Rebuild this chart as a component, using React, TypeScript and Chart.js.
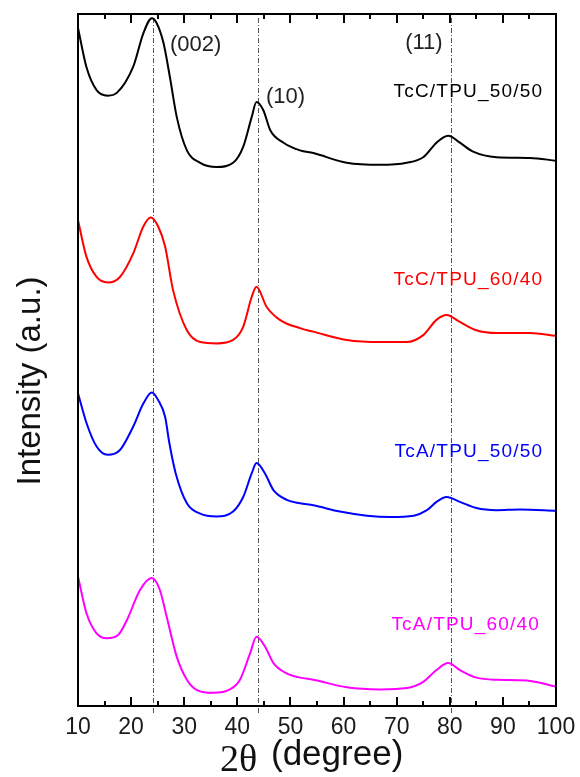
import React, { useEffect, useRef } from 'react';
import { Chart, registerables } from 'chart.js';

Chart.register(...registerables);

// 2θ (degree) positions and intensities (a.u., stacked offsets included)
const tcc5050X = [10, 11.6, 13.5, 15.6, 17.3, 20.4, 22.3, 23.9, 24.8, 26.1, 27.3, 28.6, 30.5, 33, 36.1, 39.2, 41.1, 42.7, 43.6, 44.9, 46.2, 48.7, 51.8, 54.3, 60.6, 66.9, 71.9, 75, 77.5, 79.7, 81.9, 84.4, 88.8, 95.1, 100];
const tcc5050Y = [98.0, 92.3, 89.0, 88.2, 88.6, 92.4, 97.2, 99.4, 98.7, 95.8, 90.9, 85.1, 80.3, 78.5, 77.9, 78.5, 80.8, 85.1, 87.3, 86.1, 83.2, 81.4, 80.3, 79.9, 78.5, 78.2, 78.5, 79.3, 81.4, 82.4, 81.4, 80.1, 79.3, 79.2, 78.8];

const tcc6040X = [10, 11.6, 13.5, 15.6, 17.9, 20.4, 22.3, 23.7, 25.1, 26.4, 27.9, 30.5, 33, 36.1, 39.2, 41.1, 42.7, 43.6, 45.5, 48, 51.8, 54.3, 60.6, 66.9, 71.9, 75, 77.5, 79.4, 81.9, 85, 88.8, 95.1, 100];
const tcc6040Y = [70.2, 64.9, 62.0, 61.2, 62.0, 65.4, 69.3, 70.6, 69.3, 66.4, 60.1, 54.3, 52.6, 52.4, 52.9, 54.8, 59.1, 60.6, 57.7, 55.8, 54.6, 54.1, 52.9, 52.6, 52.6, 53.6, 55.8, 56.5, 55.5, 54.3, 53.9, 53.9, 53.5];

const tca5050X = [10, 11.6, 13.5, 15.6, 17.9, 20.4, 22.3, 23.9, 25.1, 26.4, 27.2, 28.4, 30.5, 33, 36.1, 39.2, 41.1, 42.7, 43.6, 45.2, 46.8, 49.3, 51.8, 54.3, 59.3, 64.4, 68.8, 73.2, 75.7, 77.5, 79.4, 81.9, 85, 88.8, 93.2, 100];
const tca5050Y = [45.2, 40.9, 37.5, 36.3, 37.0, 40.4, 43.7, 45.3, 44.2, 41.8, 38.0, 33.6, 29.3, 27.8, 27.4, 28.1, 30.2, 33.6, 35.1, 33.6, 31.2, 29.8, 29.3, 29.0, 28.1, 27.5, 27.3, 27.5, 28.3, 29.5, 30.2, 29.5, 28.6, 28.3, 28.4, 28.2];

const tca6040X = [10, 11.6, 13.5, 15.4, 17.6, 19.2, 21.7, 23.9, 25.4, 26.7, 28.6, 30.5, 32.4, 35.5, 38.6, 40.5, 42.4, 43.6, 45.2, 46.8, 49.3, 51.8, 54.3, 60.6, 66.9, 71.9, 75, 77.5, 79.7, 81.9, 85, 88.8, 94.5, 100];
const tca6040Y = [18.7, 13.4, 10.5, 9.8, 10.3, 12.4, 16.8, 18.5, 16.8, 12.9, 7.1, 3.8, 2.3, 1.9, 2.4, 3.8, 7.6, 10.0, 8.6, 6.2, 4.7, 4.1, 3.8, 2.7, 2.4, 2.6, 3.5, 5.2, 6.2, 5.2, 4.1, 3.8, 3.7, 2.8];

const seriesNames = ['TcC/TPU_50/50', 'TcC/TPU_60/40', 'TcA/TPU_50/50', 'TcA/TPU_60/40'];
const seriesColors = ['#000000', '#ff0000', '#0000ff', '#ff00ff'];
const seriesLabelX = [97.6, 97.6, 97.6, 97.0];
const seriesLabelY = [88.7, 61.6, 36.7, 11.7];

const peakNames = ['(002)', '(10)', '(11)'];
const peakLabelX = [27.3, 45.4, 71.6];
const peakLabelY = [95.5, 88.0, 95.8];
const peakLineX = [24.2, 43.8, 80.2];

const xTickLabels = [10, 20, 30, 40, 50, 60, 70, 80, 90, 100];
const xMinorTicks = [15, 25, 35, 45, 55, 65, 75, 85, 95];

const FONT = '"Liberation Sans", Arial, sans-serif';
const SERIF = '"Liberation Serif", "Times New Roman", serif';

const decorPlugin = {
  id: 'decor',
  beforeDatasetsDraw(chart: any) {
    const { ctx, chartArea, scales } = chart;
    const xs = scales.x;
    ctx.save();
    ctx.strokeStyle = '#555555';
    ctx.lineWidth = 1;
    ctx.setLineDash([5, 2, 1, 2]);
    peakLineX.forEach((v) => {
      const px = Math.round(xs.getPixelForValue(v)) + 0.5;
      ctx.beginPath();
      ctx.moveTo(px, chartArea.top + 4);
      ctx.lineTo(px, chartArea.bottom + 7);
      ctx.stroke();
    });
    ctx.restore();
  },
  afterDraw(chart: any) {
    const { ctx, chartArea, scales } = chart;
    const xs = scales.x;
    const ys = scales.y;
    const { left, right, top, bottom } = chartArea;
    ctx.save();
    ctx.setLineDash([]);
    // frame
    ctx.strokeStyle = '#000';
    ctx.lineWidth = 2;
    ctx.strokeRect(left, top, right - left, bottom - top);
    // ticks (inside)
    ctx.fillStyle = '#000';
    const drawTick = (v: number, len: number) => {
      const px = Math.round(xs.getPixelForValue(v));
      ctx.fillRect(px - 1, bottom - len, 2, len);
      ctx.fillRect(px - 1, top, 2, len);
    };
    xTickLabels.forEach((v) => drawTick(v, 9));
    xMinorTicks.forEach((v) => drawTick(v, 5));
    // tick labels
    ctx.fillStyle = '#1a1a1a';
    ctx.font = `23px ${FONT}`;
    ctx.textAlign = 'center';
    ctx.textBaseline = 'middle';
    xTickLabels.forEach((v) => {
      ctx.fillText(String(v), xs.getPixelForValue(v), bottom + 22);
    });
    // x title
    ctx.textBaseline = 'alphabetic';
    ctx.textAlign = 'left';
    ctx.fillStyle = '#111';
    ctx.font = `38px ${SERIF}`;
    ctx.fillText('2\u03B8', 220, 771);
    ctx.font = `35px ${FONT}`;
    ctx.fillText('(degree)', 271, 765);
    // y title
    ctx.save();
    ctx.translate(40, 381);
    ctx.rotate(-Math.PI / 2);
    ctx.textAlign = 'center';
    ctx.font = `33px ${FONT}`;
    ctx.fillText('Intensity (a.u.)', 0, 0);
    ctx.restore();
    // peak labels
    ctx.font = `22px ${FONT}`;
    ctx.textAlign = 'left';
    ctx.textBaseline = 'middle';
    ctx.fillStyle = '#222';
    peakNames.forEach((n, i) => {
      ctx.fillText(n, xs.getPixelForValue(peakLabelX[i]), ys.getPixelForValue(peakLabelY[i]));
    });
    // series labels
    ctx.font = `19px ${FONT}`;
    ctx.textAlign = 'right';
    (ctx as any).letterSpacing = '1.2px';
    seriesNames.forEach((n, i) => {
      ctx.fillStyle = seriesColors[i];
      ctx.fillText(n, xs.getPixelForValue(seriesLabelX[i]), ys.getPixelForValue(seriesLabelY[i]));
    });
    (ctx as any).letterSpacing = '0px';
    ctx.restore();
  },
};

export default function App() {
  const ref = useRef<HTMLCanvasElement | null>(null);
  useEffect(() => {
    if (!ref.current) return;
    const xsArr = [tcc5050X, tcc6040X, tca5050X, tca6040X];
    const ysArr = [tcc5050Y, tcc6040Y, tca5050Y, tca6040Y];
    const chart = new Chart(ref.current, {
      type: 'line',
      data: {
        datasets: seriesNames.map((name, i) => ({
          label: name,
          data: xsArr[i].map((x, j) => ({ x, y: ysArr[i][j] })),
          borderColor: seriesColors[i],
          backgroundColor: seriesColors[i],
          borderWidth: 2,
          pointRadius: 0,
          fill: false,
          cubicInterpolationMode: 'monotone' as const,
        })),
      },
      options: {
        animation: false,
        responsive: false,
        devicePixelRatio: 1,
        layout: { padding: { left: 78, right: 24, top: 14, bottom: 0 } },
        plugins: { legend: { display: false }, tooltip: { enabled: false } },
        scales: {
          x: {
            type: 'linear',
            min: 10,
            max: 100,
            grid: { display: false, drawTicks: false },
            border: { display: false },
            ticks: { display: false, stepSize: 10 },
            afterFit: (s: any) => {
              s.height = 71;
            },
          },
          y: { display: false, min: 0, max: 100 },
        },
      },
      plugins: [decorPlugin],
    });
    return () => chart.destroy();
  }, []);
  return (
    <div style={{ position: 'fixed', left: 0, top: 0, width: 580, height: 777, background: '#fff' }}>
      <canvas ref={ref} width={580} height={777} style={{ display: 'block' }} />
    </div>
  );
}
